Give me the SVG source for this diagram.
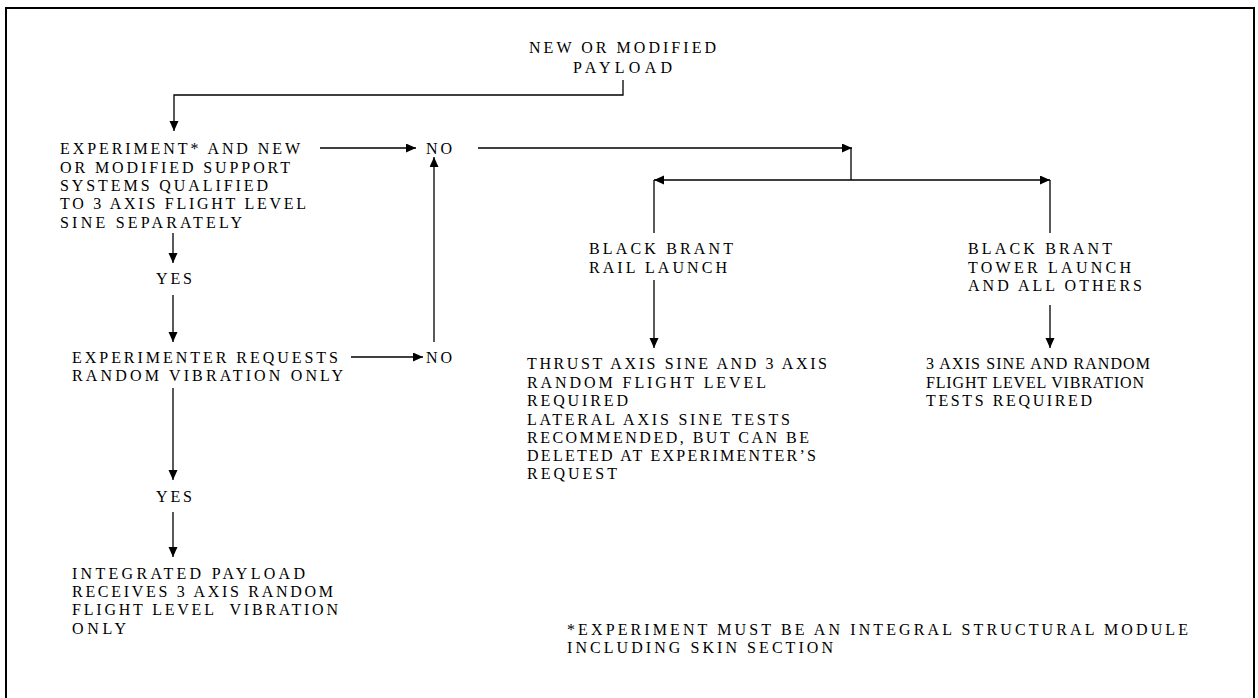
<svg xmlns="http://www.w3.org/2000/svg" width="1258" height="698" viewBox="0 0 1258 698">
<style>
text{font-family:"Liberation Serif","Times New Roman","DejaVu Serif",serif;font-size:16px;fill:#000}
.c{fill:none;stroke:#000;stroke-width:1.3}
</style>
<defs>
<marker id="ah" markerUnits="userSpaceOnUse" markerWidth="11" markerHeight="10" refX="10" refY="4.5" orient="auto">
<path d="M0,0 L10,4.5 L0,9 z" fill="#000"/>
</marker>
<marker id="ahs" markerUnits="userSpaceOnUse" markerWidth="11" markerHeight="10" refX="10" refY="4.5" orient="auto-start-reverse">
<path d="M0,0 L10,4.5 L0,9 z" fill="#000"/>
</marker>
</defs>
<rect x="0" y="0" width="1258" height="698" fill="#fff"/>
<rect x="6" y="8" width="1248" height="700" fill="none" stroke="#000" stroke-width="2"/>

<g id="connectors">
<path class="c" d="M623,80 V95 H174 V131" marker-end="url(#ah)"/>
<path class="c" d="M320,148 H416" marker-end="url(#ah)"/>
<path class="c" d="M434,342 V157" marker-end="url(#ah)"/>
<path class="c" d="M478,148 H852" marker-end="url(#ah)"/>
<path class="c" d="M851,148 V180"/>
<path class="c" d="M654,180 H1050" marker-start="url(#ahs)" marker-end="url(#ahs)"/>
<path class="c" d="M654,180 V233"/>
<path class="c" d="M1050,180 V233"/>
<path class="c" d="M173,233 V263" marker-end="url(#ah)"/>
<path class="c" d="M173,295 V342" marker-end="url(#ah)"/>
<path class="c" d="M351,357 H423" marker-end="url(#ah)"/>
<path class="c" d="M173,388 V480" marker-end="url(#ah)"/>
<path class="c" d="M173,512 V557" marker-end="url(#ah)"/>
<path class="c" d="M654,280 V348" marker-end="url(#ah)"/>
<path class="c" d="M1050,305 V348" marker-end="url(#ah)"/>
</g>

<g id="node-payload">
<text x="529" y="53" textLength="187" lengthAdjust="spacing">NEW OR MODIFIED</text>
<text x="573" y="73" textLength="99" lengthAdjust="spacing">PAYLOAD</text>
</g>

<g id="node-experiment">
<text x="60" y="154" textLength="240" lengthAdjust="spacing">EXPERIMENT* AND NEW</text>
<text x="60" y="173" textLength="230" lengthAdjust="spacing">OR MODIFIED SUPPORT</text>
<text x="60" y="191" textLength="208" lengthAdjust="spacing">SYSTEMS QUALIFIED</text>
<text x="60" y="209" textLength="246" lengthAdjust="spacing">TO 3 AXIS FLIGHT LEVEL</text>
<text x="60" y="228" textLength="182" lengthAdjust="spacing">SINE SEPARATELY</text>
</g>

<g id="node-no1"><text x="426" y="154" textLength="26" lengthAdjust="spacing">NO</text></g>
<g id="node-yes1"><text x="156" y="284" textLength="36" lengthAdjust="spacing">YES</text></g>

<g id="node-requests">
<text x="72" y="363" textLength="266" lengthAdjust="spacing">EXPERIMENTER REQUESTS</text>
<text x="72" y="381" textLength="271" lengthAdjust="spacing">RANDOM VIBRATION ONLY</text>
</g>

<g id="node-no2"><text x="426" y="363" textLength="26" lengthAdjust="spacing">NO</text></g>
<g id="node-yes2"><text x="156" y="502" textLength="36" lengthAdjust="spacing">YES</text></g>

<g id="node-integrated">
<text x="72" y="579" textLength="233" lengthAdjust="spacing">INTEGRATED PAYLOAD</text>
<text x="72" y="597" textLength="261" lengthAdjust="spacing">RECEIVES 3 AXIS RANDOM</text>
<text x="72" y="615" textLength="266" lengthAdjust="spacing" xml:space="preserve">FLIGHT LEVEL  VIBRATION</text>
<text x="72" y="634" textLength="54" lengthAdjust="spacing">ONLY</text>
</g>

<g id="node-rail">
<text x="589" y="254" textLength="144" lengthAdjust="spacing">BLACK BRANT</text>
<text x="589" y="273" textLength="138" lengthAdjust="spacing">RAIL LAUNCH</text>
</g>

<g id="node-tower">
<text x="968" y="254" textLength="144" lengthAdjust="spacing">BLACK BRANT</text>
<text x="968" y="273" textLength="163" lengthAdjust="spacing">TOWER LAUNCH</text>
<text x="968" y="291" textLength="174" lengthAdjust="spacing">AND ALL OTHERS</text>
</g>

<g id="node-rail-result">
<text x="527" y="369" textLength="300" lengthAdjust="spacing">THRUST AXIS SINE AND 3 AXIS</text>
<text x="527" y="388" textLength="239" lengthAdjust="spacing">RANDOM FLIGHT LEVEL</text>
<text x="527" y="406" textLength="101" lengthAdjust="spacing">REQUIRED</text>
<text x="527" y="425" textLength="263" lengthAdjust="spacing">LATERAL AXIS SINE TESTS</text>
<text x="527" y="443" textLength="282" lengthAdjust="spacing">RECOMMENDED, BUT CAN BE</text>
<text x="527" y="461" textLength="289" lengthAdjust="spacing">DELETED AT EXPERIMENTER’S</text>
<text x="527" y="479" textLength="90" lengthAdjust="spacing">REQUEST</text>
</g>

<g id="node-tower-result">
<text x="926" y="369" textLength="224" lengthAdjust="spacing">3 AXIS SINE AND RANDOM</text>
<text x="926" y="388" textLength="218" lengthAdjust="spacing">FLIGHT LEVEL VIBRATION</text>
<text x="926" y="406" textLength="166" lengthAdjust="spacing">TESTS REQUIRED</text>
</g>

<g id="node-footnote">
<text x="567" y="635" textLength="621" lengthAdjust="spacing">*EXPERIMENT MUST BE AN INTEGRAL STRUCTURAL MODULE</text>
<text x="567" y="653" textLength="266" lengthAdjust="spacing">INCLUDING SKIN SECTION</text>
</g>
</svg>
